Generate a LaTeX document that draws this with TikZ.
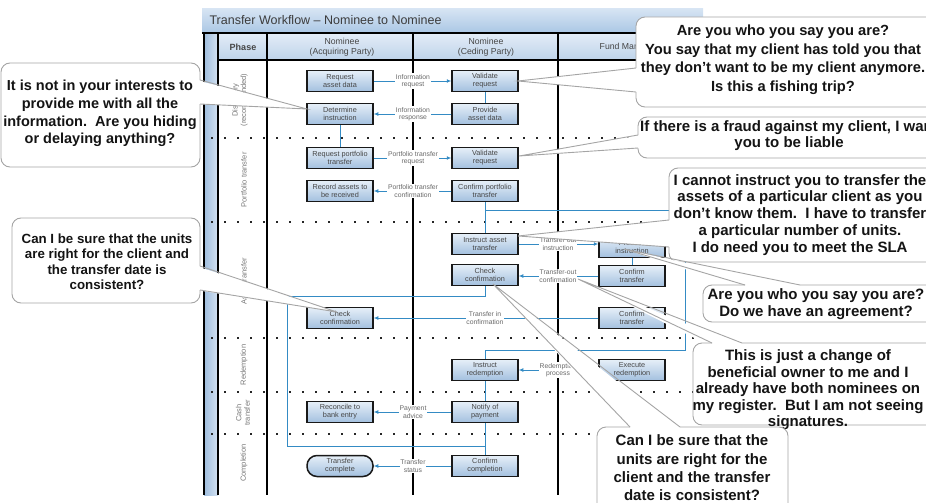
\documentclass[tikz,border=0pt]{standalone}
\usepackage{fontspec}
\setmainfont{Liberation Sans}
\usetikzlibrary{arrows.meta,calc}

\definecolor{flowblue}{RGB}{52,139,196}
\definecolor{boxtop}{RGB}{230,239,248}
\definecolor{boxbot}{RGB}{163,192,223}
\definecolor{headtop}{RGB}{228,237,247}
\definecolor{headbot}{RGB}{190,211,234}
\definecolor{titletop}{RGB}{214,228,243}
\definecolor{titlebot}{RGB}{172,200,229}
\definecolor{stripdark}{RGB}{160,190,222}
\definecolor{striplight}{RGB}{212,226,242}
\definecolor{boxtext}{RGB}{70,70,70}
\definecolor{lbltext}{RGB}{105,105,105}
\definecolor{phasetext}{RGB}{120,120,120}
\definecolor{titletext}{RGB}{60,60,60}
\definecolor{calloutline}{RGB}{165,165,165}
\definecolor{callouttext}{RGB}{20,20,20}

\tikzset{
  pbox/.style={draw=black!90, line width=1.5pt, top color=boxtop, bottom color=boxbot,
    minimum width=66pt, minimum height=21pt, inner sep=1pt, align=center,
    font=\fontsize{7.3}{8.2}\selectfont, text=boxtext},
  flowlbl/.style={fill=white, inner sep=0.8pt, align=center,
    font=\fontsize{6.8}{7.4}\selectfont, text=lbltext},
  flow/.style={draw=flowblue, line width=0.9pt},
  arr/.style={flow, -{Latex[length=4.5pt,width=4pt]}},
  rule/.style={draw=black, line width=1.8pt},
  sep/.style={draw=black!85, line width=2pt, dash pattern=on 2pt off 11pt},
  phase/.style={rotate=90, align=center, font=\fontsize{7.5}{8.5}\selectfont, text=phasetext},
  headtxt/.style={align=center, font=\fontsize{8.7}{10}\selectfont, text=boxtext},
  callout/.style={draw=calloutline, line width=0.9pt},
  ctext/.style={align=center, text=callouttext}
}

% callout with the pointer on the left edge: x1,y1,x2,y2, pointer base ya,yb, tip
\newcommand{\calloutWL}[7]{%
  \fill[white] (#7) -- ($(#1,#5)+(4,0)$) -- ($(#1,#6)+(4,0)$) -- cycle;
  \fill[white,rounded corners=9pt] (#1,#2) rectangle (#3,#4);
  \draw[callout] (#1,#5) -- (#7) -- (#1,#6);
  \draw[callout,rounded corners=9pt] (#1,#6) -- (#1,#4) -- (#3,#4) -- (#3,#2) -- (#1,#2) -- (#1,#5);}
% pointer on the right edge
\newcommand{\calloutWR}[7]{%
  \fill[white] (#7) -- ($(#3,#5)+(-4,0)$) -- ($(#3,#6)+(-4,0)$) -- cycle;
  \fill[white,rounded corners=9pt] (#1,#2) rectangle (#3,#4);
  \draw[callout] (#3,#5) -- (#7) -- (#3,#6);
  \draw[callout,rounded corners=9pt] (#3,#6) -- (#3,#4) -- (#1,#4) -- (#1,#2) -- (#3,#2) -- (#3,#5);}
% pointer on the top edge: x1,y1,x2,y2, pointer base xa,xb, tip
\newcommand{\calloutWT}[7]{%
  \fill[white] (#7) -- ($(#5,#2)+(0,4)$) -- ($(#6,#2)+(0,4)$) -- cycle;
  \fill[white,rounded corners=9pt] (#1,#2) rectangle (#3,#4);
  \draw[callout] (#5,#2) -- (#7) -- (#6,#2);
  \draw[callout,rounded corners=9pt] (#6,#2) -- (#3,#2) -- (#3,#4) -- (#1,#4) -- (#1,#2) -- (#5,#2);}

\begin{document}
\begin{tikzpicture}[x=1pt,y=-1pt]
\useasboundingbox (0,0) rectangle (926,503);
\clip (0,0) rectangle (926,503);

% ---------- swimlane frame ----------
\shade[top color=titletop, bottom color=titlebot] (202,9) rectangle (703,32);
\node[anchor=west, font=\fontsize{12.5}{14}\selectfont, text=titletext] (title) at (206,20)
  {Transfer Workflow – Nominee to Nominee};
\shade[top color=headtop, bottom color=headbot] (218,33) rectangle (703,60);
\shade[left color=stripdark, right color=striplight] (204,33) rectangle (218,495);

\foreach \y in {138,222,338,392,434} \draw[sep] (211,\y) -- (703,\y);

\draw[rule] (202,33) -- (703,33);
\draw[rule, line width=1.4pt] (218,60) -- (703,60);
\foreach \x in {204,218,267,413,558} \draw[rule] (\x,33) -- (\x,495);

% header
\node[headtxt, font=\bfseries\fontsize{9}{10}\selectfont] (hPhase) at (243,47) {Phase};
\node[headtxt] (hAcq) at (342,47) {Nominee\\(Acquiring Party)};
\node[headtxt] (hCed) at (486,47) {Nominee\\(Ceding Party)};
\node[headtxt] (hFund) at (628,47) {Fund Manager};

% phases
\node[phase] (pDisc) at (240,100) {Discovery\\(recommended)};
\node[phase] (pPort) at (244,180) {Portfolio transfer};
\node[phase] (pAsset) at (244,281) {Asset transfer};
\node[phase] (pRedeem) at (244,365) {Redemption};
\node[phase] (pCash) at (243,413) {Cash\\transfer};
\node[phase] (pComp) at (244,463) {Completion};

% ---------- process steps ----------
\node[pbox] (aReq) at (340,81) {Request\\asset data};
\node[pbox] (aDet) at (340,114) {Determine\\instruction};
\node[pbox] (aReqP) at (340,158) {Request portfolio\\transfer};
\node[pbox] (aRec) at (340,191) {Record assets to\\be received};
\node[pbox] (aChk) at (340,318) {Check\\confirmation};
\node[pbox] (aRecon) at (340,412) {Reconcile to\\bank entry};
\node[pbox, rounded corners=10pt] (aDone) at (340,466) {Transfer\\complete};

\node[pbox] (cVal) at (485,81) {Validate\\request};
\node[pbox] (cProv) at (485,114) {Provide\\asset data};
\node[pbox] (cValP) at (485,158) {Validate\\request};
\node[pbox] (cConfP) at (485,191) {Confirm portfolio\\transfer};
\node[pbox] (cInstr) at (485,244) {Instruct asset\\transfer};
\node[pbox] (cChk) at (485,275) {Check\\confirmation};
\node[pbox] (cRedeem) at (485,370) {Instruct\\redemption};
\node[pbox] (cNotify) at (485,412) {Notify of\\payment};
\node[pbox] (cComp) at (485,466) {Confirm\\completion};

\node[pbox] (fInstr) at (632,247) {Process\\instruction};
\node[pbox] (fConfOut) at (632,276) {Confirm\\transfer};
\node[pbox] (fConfIn) at (632,318) {Confirm\\transfer};
\node[pbox] (fExec) at (632,370) {Execute\\redemption};

% ---------- flows ----------
\draw[arr] (aReq) -- (cVal);
\draw[arr] (cProv) -- (aDet);
\draw[flow] (cVal) -- (cProv);
\draw[flow] (aDet) -- (aReqP);
\draw[arr] (aReqP) -- (cValP);
\draw[arr] (cConfP) -- (aRec);
\draw[flow] (cConfP) -- (cInstr);

\coordinate (jTop) at (485,210);
\coordinate (jTopR) at (685,210);
\coordinate (jBotR) at (685,350);
\coordinate (jBot) at (485,350);
\draw[flow] (jTop) -- (jTopR) -- (jBotR) -- (jBot) -- (cRedeem);

\draw[arr] (cInstr.east) -- (cInstr.east -| fInstr.west);
\draw[flow] (fInstr) -- (fConfOut);
\draw[arr] (fConfOut.west) -- (fConfOut.west -| cChk.east);
\draw[arr] (fConfIn) -- (aChk);

\coordinate (kA) at (485,296);
\coordinate (kB) at (287,296);
\coordinate (kC) at (287,446);
\coordinate (kD) at (485,446);
\draw[flow] (cChk) -- (kA) -- (kB) -- (kC) -- (kD);

\draw[arr] (fExec) -- (cRedeem);
\draw[flow] (cRedeem) -- (cNotify);
\draw[arr] (cNotify) -- (aRecon);
\draw[flow] (cNotify) -- (cComp);
\draw[arr] (cComp) -- (aDone);

\node[flowlbl] (lInfoReq) at (413,81) {Information\\request};
\node[flowlbl] (lInfoResp) at (413,114) {Information\\response};
\node[flowlbl] (lPtReq) at (413,158) {Portfolio transfer\\request};
\node[flowlbl] (lPtConf) at (413,191) {Portfolio transfer\\confirmation};
\node[flowlbl] (lOutInstr) at (558,244) {Transfer out\\instruction};
\node[flowlbl] (lOutConf) at (558,276) {Transfer-out\\confirmation};
\node[flowlbl] (lInConf) at (485,318) {Transfer in\\confirmation};
\node[flowlbl] (lRedeem) at (558,370) {Redemption\\process};
\node[flowlbl] (lPay) at (413,412) {Payment\\advice};
\node[flowlbl] (lStatus) at (413,466) {Transfer\\status};

% ---------- speech bubbles ----------
\coordinate (tipA) at (518,81);
\coordinate (tipB) at (519,156);
\coordinate (tipC) at (518,236);
\coordinate (tipD) at (624,249);
\coordinate (tipE) at (578,279);
\coordinate (tipF) at (493,284);
\coordinate (tipG) at (307,109);
\coordinate (tipH) at (337,312);

\calloutWR{1}{63}{200}{167}{80}{104}{tipG}
\node[ctext, font=\bfseries\fontsize{14.5}{17.7}\selectfont] (qG) at (100,113.5)
  {It is not in your interests to\\provide me with all the\\information.\ \ Are you hiding\\or delaying anything?};

\calloutWR{12}{218}{200}{303}{266}{290}{tipH}
\node[ctext, font=\bfseries\fontsize{13.3}{15.5}\selectfont] (qH) at (107,261.5)
  {Can I be sure that the units\\are right for the client and\\the transfer date is\\consistent?};

\calloutWL{636}{17}{950}{107}{68}{92}{tipA}
\node[ctext, font=\bfseries\fontsize{14.7}{18.5}\selectfont] (qA) at (783,59.5)
  {Are you who you say you are?\\You say that my client has told you that\\they don’t want to be my client anymore.\\Is this a fishing trip?};

\calloutWL{638}{117}{950}{158}{135}{148}{tipB}
\node[ctext, font=\bfseries\fontsize{15}{16}\selectfont] (qB) at (789,135.5)
  {If there is a fraud against my client, I want\\you to be liable};

\calloutWL{669}{168}{950}{262}{220}{247}{tipC}
\node[ctext, font=\bfseries\fontsize{15}{16.9}\selectfont] (qC) at (800,215)
  {I cannot instruct you to transfer the\\assets of a particular client as you\\don’t know them.\ \ I have to transfer\\a particular number of units.\\I do need you to meet the SLA};

\calloutWT{703}{285}{950}{322}{745}{800}{tipD}
\node[ctext, font=\bfseries\fontsize{15}{17}\selectfont] (qD) at (816,304.5)
  {Are you who you say you are?\\Do we have an agreement?};

\calloutWT{693}{343}{950}{425}{712}{742}{tipE}
\node[ctext, font=\bfseries\fontsize{15}{16.5}\selectfont] (qE) at (808,390)
  {This is just a change of\\beneficial owner to me and I\\already have both nominees on\\my register.\ \ But I am not seeing\\signatures.};

\calloutWT{597}{427}{788}{525}{630}{680}{tipF}
\node[ctext, font=\bfseries\fontsize{15}{18.3}\selectfont] (qF) at (692,468)
  {Can I be sure that the\\units are right for the\\client and the transfer\\date is consistent?};

\end{tikzpicture}
\end{document}
